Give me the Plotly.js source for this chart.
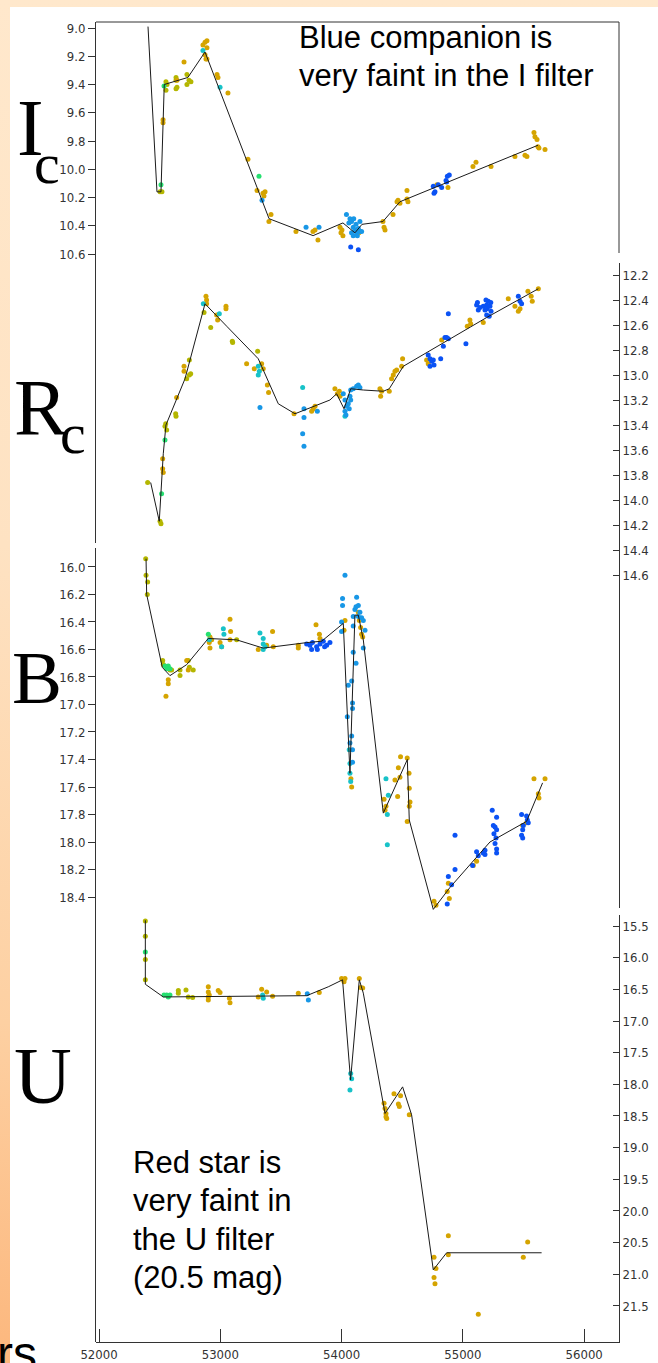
<!DOCTYPE html>
<html><head><meta charset="utf-8">
<script src="https://cdn.plot.ly/plotly-3.0.1.min.js"></script>
<style>
html,body{margin:0;padding:0;}
body{width:658px;height:1363px;overflow:hidden;background:linear-gradient(to bottom,#ffe8cc 0%,#fee2c2 40%,#fdd0a2 75%,#fcb77d 100%);}
#chart{width:658px;height:1363px;}
</style></head><body><div id="chart"></div>
<script>
// ---------- X axis (Julian Date) ----------
const xTicks = [52000, 53000, 54000, 55000, 56000];

// ---------- I_c panel ----------
const I_ticks = [9.0, 9.2, 9.4, 9.6, 9.8, 10.0, 10.2, 10.4, 10.6];
const I_line_jd  = [52404, 52478, 52511, 52538, 52733, 52874, 53402, 53765, 54011, 54110, 54168, 54341, 54481, 55619];
const I_line_mag = [8.99, 10.16, 10.16, 9.40, 9.35, 9.17, 10.35, 10.47, 10.38, 10.45, 10.39, 10.37, 10.23, 9.83];
const I_olive_jd  = [52503, 52519, 52552, 52561, 52552, 52635, 52635, 52635, 52643, 52725, 52725, 52742, 52758];
const I_olive_mag = [10.16, 10.16, 9.38, 9.40, 9.44, 9.35, 9.37, 9.43, 9.42, 9.33, 9.40, 9.37, 9.38];
const I_green_jd  = [52511, 52536, 53319];
const I_green_mag = [10.11, 9.41, 10.05];
const I_gold_jd  = [52528, 52528, 52643, 52701, 52857, 52874, 52890, 52890, 52874, 52890, 52882, 52973, 52981, 53063, 53228, 53303, 53360, 53352, 53369, 53418, 53401, 53624, 53764, 53781, 53805, 53987, 54003, 54011, 53995, 54127, 54143, 54341, 54350, 54358, 54424, 54457, 54465, 54481, 54539, 54547, 54539, 54786, 54877, 55083, 55108, 55232, 55429, 55512, 55528, 55586, 55594, 55611, 55619, 55677, 55627];
const I_gold_mag = [9.67, 9.65, 9.37, 9.24, 9.12, 9.10, 9.09, 9.14, 9.19, 9.22, 9.22, 9.33, 9.35, 9.46, 9.93, 10.15, 10.19, 10.17, 10.16, 10.32, 10.37, 10.44, 10.44, 10.43, 10.50, 10.41, 10.43, 10.47, 10.45, 10.43, 10.45, 10.37, 10.41, 10.43, 10.32, 10.23, 10.22, 10.24, 10.21, 10.23, 10.15, 10.11, 10.13, 9.98, 9.95, 9.98, 9.91, 9.90, 9.91, 9.74, 9.77, 9.79, 9.84, 9.86, 9.85];
const I_teal_jd  = [52857, 52998];
const I_teal_mag = [9.16, 9.42];
const I_sky_jd  = [53344, 53707, 53814, 54040, 54069, 54082, 54096, 54110, 54124, 54138, 54151, 54165, 54082, 54096, 54119, 54060, 54100, 54130, 54150];
const I_sky_mag = [10.22, 10.41, 10.41, 10.32, 10.35, 10.37, 10.41, 10.43, 10.45, 10.42, 10.37, 10.44, 10.45, 10.47, 10.39, 10.38, 10.35, 10.47, 10.44];
const I_blue_jd  = [54075, 54138, 54756, 54770, 54762, 54797, 54825, 54861, 54872, 54888, 54866];
const I_blue_mag = [10.55, 10.57, 10.12, 10.16, 10.17, 10.11, 10.13, 10.08, 10.05, 10.04, 10.09];

// ---------- R_c panel ----------
const R_ticks = [12.2, 12.4, 12.6, 12.8, 13.0, 13.2, 13.4, 13.6, 13.8, 14.0, 14.2, 14.4, 14.6];
const R_line_jd  = [52426, 52497, 52530, 52552, 52709, 52874, 53053, 53313, 53478, 53616, 53904, 53959, 54020, 54075, 54179, 54344, 54393, 54509, 55196, 55622];
const R_line_mag = [13.86, 14.17, 13.63, 13.40, 13.03, 12.43, 12.61, 12.87, 13.23, 13.31, 13.20, 13.15, 13.27, 13.11, 13.12, 13.13, 13.11, 12.93, 12.54, 12.31];
const R_olive_jd  = [52401, 52503, 52511, 52550, 52558, 52544, 52632, 52635, 52723, 52745, 52745, 52756, 52866, 52921, 53099, 53102, 53308];
const R_olive_mag = [13.86, 14.17, 14.19, 13.39, 13.44, 13.41, 13.31, 13.33, 13.03, 13.00, 12.88, 12.99, 12.50, 12.62, 12.73, 12.74, 12.81];
const R_green_jd  = [52516, 52544];
const R_green_mag = [13.95, 13.52];
const R_gold_jd  = [52525, 52525, 52530, 52640, 52701, 52701, 52882, 52887, 52887, 52970, 52978, 53047, 53047, 53217, 53280, 53341, 53354, 53388, 53398, 53608, 53753, 53767, 53781, 53945, 53965, 53981, 53987, 54316, 54330, 54322, 54393, 54412, 54426, 54440, 54454, 54503, 54495, 54701, 54714, 54825, 55036, 55058, 55064, 55168, 55374, 55429, 55457, 55471, 55536, 55563, 55572, 55622];
const R_gold_mag = [13.67, 13.75, 13.78, 13.18, 12.93, 12.97, 12.37, 12.40, 12.43, 12.52, 12.56, 12.45, 12.47, 12.91, 12.95, 12.91, 12.95, 13.08, 13.14, 13.31, 13.29, 13.27, 13.25, 13.11, 13.15, 13.13, 13.17, 13.11, 13.13, 13.17, 13.13, 13.03, 13.00, 12.97, 12.96, 12.87, 12.93, 12.88, 12.91, 12.72, 12.61, 12.56, 12.59, 12.58, 12.39, 12.45, 12.49, 12.47, 12.33, 12.37, 12.41, 12.31];
const R_teal_jd  = [52860, 52992, 53313, 53313, 53322, 53679, 54028];
const R_teal_mag = [12.43, 12.51, 12.93, 13.00, 12.97, 13.10, 13.33];
const R_sky_jd  = [53327, 53690, 53690, 53679, 53690, 53800, 54014, 54028, 54042, 54028, 54036, 54055, 54069, 54075, 54096, 54124, 54138, 54151, 54063, 54075];
const R_sky_mag = [13.26, 13.27, 13.34, 13.47, 13.57, 13.29, 13.15, 13.20, 13.25, 13.29, 13.32, 13.23, 13.17, 13.12, 13.11, 13.09, 13.08, 13.10, 13.27, 13.20];
const R_blue_jd  = [54714, 54729, 54743, 54756, 54762, 54729, 54817, 54839, 54852, 54866, 54880, 54880, 55025, 55113, 55127, 55168, 55182, 55196, 55209, 55223, 55232, 55196, 55217, 55457, 55471, 55484, 55120, 55190, 55200, 55230, 55140];
const R_blue_mag = [12.84, 12.87, 12.89, 12.88, 12.92, 12.93, 12.87, 12.77, 12.70, 12.70, 12.71, 12.51, 12.75, 12.44, 12.48, 12.45, 12.48, 12.44, 12.41, 12.45, 12.49, 12.52, 12.53, 12.37, 12.41, 12.43, 12.42, 12.40, 12.47, 12.42, 12.46];

// ---------- B panel ----------
const B_ticks = [16.0, 16.2, 16.4, 16.6, 16.8, 17.0, 17.2, 17.4, 17.6, 17.8, 18.0, 18.2, 18.4];
const B_line_jd  = [52388, 52393, 52522, 52585, 52723, 52901, 53135, 53354, 53712, 53836, 53904, 54014, 54069, 54110, 54138, 54179, 54344, 54542, 54558, 54756, 54894, 55223, 55525, 55657];
const B_line_mag = [15.94, 16.20, 16.73, 16.79, 16.71, 16.52, 16.53, 16.59, 16.55, 16.54, 16.49, 16.41, 17.50, 16.35, 16.35, 16.53, 17.79, 17.40, 17.84, 18.49, 18.33, 18.00, 17.85, 17.57];
const B_olive_jd  = [52385, 52388, 52401, 52398, 52525, 52530, 52585, 52599, 52668, 52668, 52736, 52745, 52777, 53135];
const B_olive_mag = [15.94, 16.06, 16.11, 16.20, 16.68, 16.71, 16.75, 16.75, 16.75, 16.79, 16.68, 16.73, 16.75, 16.53];
const B_green_jd  = [52544, 52558, 52571, 52585, 52901];
const B_green_mag = [16.72, 16.74, 16.72, 16.74, 16.49];
const B_gold_jd  = [52571, 52571, 52552, 52723, 52736, 52915, 52909, 52915, 52929, 52998, 53011, 53080, 53085, 53080, 53313, 53382, 53431, 53437, 53643, 53643, 53789, 53817, 53822, 54028, 54020, 54077, 54083, 54138, 54146, 54157, 54165, 54174, 54350, 54358, 54366, 54440, 54468, 54481, 54462, 54486, 54541, 54556, 54558, 54564, 54558, 54541, 54762, 54778, 54880, 54871, 54888, 55086, 55113, 55493, 55525, 55586, 55677, 55622, 55627];
const B_gold_mag = [16.82, 16.85, 16.94, 16.68, 16.75, 16.51, 16.55, 16.59, 16.53, 16.55, 16.58, 16.38, 16.47, 16.53, 16.60, 16.57, 16.47, 16.58, 16.57, 16.59, 16.42, 16.49, 16.52, 16.39, 16.46, 17.54, 17.60, 16.33, 16.39, 16.44, 16.49, 16.51, 17.69, 17.77, 17.74, 17.55, 17.46, 17.53, 17.67, 17.38, 17.39, 17.50, 17.61, 17.71, 17.74, 17.85, 18.43, 18.46, 18.30, 18.36, 18.41, 18.17, 18.14, 17.88, 17.86, 17.54, 17.54, 17.65, 17.68];
const B_teal_jd  = [52909, 53025, 53030, 53011, 53327, 53354, 53354, 53369, 53354, 54063, 54069, 54069, 54075, 54366, 54385, 54377, 54377];
const B_teal_mag = [16.53, 16.45, 16.49, 16.58, 16.48, 16.52, 16.56, 16.58, 16.60, 17.33, 17.43, 17.50, 17.56, 17.54, 17.66, 17.80, 18.02];
const B_sky_jd  = [54028, 54008, 54008, 54000, 54000, 54055, 54047, 54083, 54090, 54090, 54083, 54069, 54090, 54090, 54096, 54110, 54124, 54138, 54151, 54096, 54165, 54179, 54193, 54119, 54138, 54179, 54119, 54096];
const B_sky_mag = [16.06, 16.23, 16.28, 16.40, 16.47, 16.86, 17.09, 16.83, 16.99, 17.03, 17.23, 17.28, 17.33, 17.42, 16.36, 16.31, 16.22, 16.28, 16.33, 16.43, 16.37, 16.39, 16.46, 16.29, 16.36, 16.59, 16.70, 16.62];
const B_blue_jd  = [53712, 53794, 53822, 53849, 53877, 53904, 53753, 53739, 53760, 53800, 53860, 54871, 54880, 54907, 54935, 54935, 55127, 55080, 55113, 55168, 55182, 55182, 55242, 55278, 55251, 55265, 55278, 55256, 55273, 55265, 55278, 55278, 55484, 55498, 55493, 55484, 55493, 55525, 55539, 55531];
const B_blue_mag = [16.56, 16.58, 16.56, 16.54, 16.57, 16.55, 16.60, 16.57, 16.55, 16.60, 16.58, 18.45, 18.25, 18.31, 18.20, 17.95, 18.10, 18.17, 18.07, 18.08, 18.09, 18.06, 17.77, 17.82, 17.88, 17.89, 17.91, 17.94, 17.97, 18.01, 18.05, 18.08, 17.80, 17.88, 17.91, 17.95, 17.97, 17.81, 17.86, 17.84];

// ---------- U panel ----------
const U_ticks = [15.5, 16.0, 16.5, 17.0, 17.5, 18.0, 18.5, 19.0, 19.5, 20.0, 20.5, 21.0, 21.5];
const U_line_jd  = [52382, 52382, 52530, 53121, 53712, 53890, 54008, 54074, 54146, 54179, 54358, 54503, 54577, 54756, 54866, 55649];
const U_line_mag = [15.41, 16.42, 16.62, 16.61, 16.60, 16.46, 16.35, 17.93, 16.35, 16.56, 18.46, 18.04, 18.48, 20.93, 20.66, 20.66];
const U_olive_jd  = [52382, 52382, 52382, 52382, 52654, 52654, 52717, 52736, 52772];
const U_olive_mag = [15.42, 15.66, 16.03, 16.35, 16.52, 16.56, 16.51, 16.62, 16.63];
const U_green_jd  = [52382, 52536, 52558, 52571, 52585];
const U_green_mag = [15.91, 16.59, 16.59, 16.62, 16.59];
const U_gold_jd  = [52901, 52901, 52901, 52901, 52909, 52983, 52998, 53075, 53080, 53341, 53313, 53382, 53431, 53643, 53816, 54000, 54014, 54020, 54028, 54146, 54157, 54174, 54350, 54358, 54366, 54372, 54366, 54432, 54468, 54486, 54476, 54558, 54762, 54762, 54770, 54778, 54880, 54880, 55127, 55498, 55534];
const U_gold_mag = [16.46, 16.54, 16.62, 16.67, 16.59, 16.52, 16.55, 16.64, 16.71, 16.50, 16.62, 16.54, 16.61, 16.56, 16.55, 16.33, 16.35, 16.38, 16.33, 16.33, 16.47, 16.48, 18.30, 18.38, 18.46, 18.54, 18.51, 18.15, 18.31, 18.18, 18.35, 18.48, 20.73, 21.05, 21.15, 20.91, 20.39, 20.69, 21.63, 20.73, 20.49];
const U_teal_jd  = [53349, 53354, 54075, 54083, 54069];
const U_teal_mag = [16.59, 16.64, 17.83, 17.91, 18.09];
const U_sky_jd  = [53717, 53726];
const U_sky_mag = [16.57, 16.67];

// ---------- text ----------
const noteTop = ["Blue companion is", "very faint in the I filter"];
const noteBottom = ["Red star is", "very faint in", "the U filter", "(20.5 mag)"];

// ---------- styling ----------
const W = 658, H = 1363;
const fx = p => p / W, fy = p => 1 - p / H;
const COL = {gold:'#d5a400', olive:'#b4b600', green:'#25e070', teal:'#18c2c8', sky:'#1897e6', blue:'#0b52f4'};
const tickFont = {family:'"DejaVu Sans Condensed", "Liberation Sans Narrow", "Liberation Sans", sans-serif', size:13, color:'#333'};
const axisCol = '#333';

const traces = [];
function addPanel(ax, groups, ljd, lmag) {
  groups.forEach(g => traces.push({type:'scatter', mode:'markers', x:g[1], y:g[2], yaxis:ax,
    marker:{color:COL[g[0]], size:5}, hoverinfo:'skip', cliponaxis:true}));
  traces.push({type:'scatter', mode:'lines', x:ljd, y:lmag, yaxis:ax,
    line:{color:'#1a1a1a', width:1}, hoverinfo:'skip'});
}
addPanel('y', [['olive',I_olive_jd,I_olive_mag],['gold',I_gold_jd,I_gold_mag],['green',I_green_jd,I_green_mag],['teal',I_teal_jd,I_teal_mag],['sky',I_sky_jd,I_sky_mag],['blue',I_blue_jd,I_blue_mag]], I_line_jd, I_line_mag);
addPanel('y2', [['olive',R_olive_jd,R_olive_mag],['gold',R_gold_jd,R_gold_mag],['green',R_green_jd,R_green_mag],['teal',R_teal_jd,R_teal_mag],['sky',R_sky_jd,R_sky_mag],['blue',R_blue_jd,R_blue_mag]], R_line_jd, R_line_mag);
addPanel('y3', [['olive',B_olive_jd,B_olive_mag],['gold',B_gold_jd,B_gold_mag],['green',B_green_jd,B_green_mag],['teal',B_teal_jd,B_teal_mag],['sky',B_sky_jd,B_sky_mag],['blue',B_blue_jd,B_blue_mag]], B_line_jd, B_line_mag);
addPanel('y4', [['olive',U_olive_jd,U_olive_mag],['gold',U_gold_jd,U_gold_mag],['green',U_green_jd,U_green_mag],['teal',U_teal_jd,U_teal_mag],['sky',U_sky_jd,U_sky_mag]], U_line_jd, U_line_mag);

function yax(domTop, domBot, vTop, vBot, side, ticks) {
  return {domain:[fy(domBot), fy(domTop)], range:[vBot, vTop], side:side, anchor:'x',
    showline:true, linecolor:axisCol, linewidth:1, mirror:false,
    ticks: side === 'left' ? 'outside' : 'inside', ticklen: side === 'left' ? 7 : 6, tickwidth:1, tickcolor:axisCol,
    tickvals:ticks, ticktext:ticks.map(v => v.toFixed(1)), tickfont:tickFont,
    showgrid:false, zeroline:false, fixedrange:true};
}

const annotations = [];
const serif = {family:'"Liberation Serif", "Times New Roman", serif', size:80, color:'#000'};
const serifB = {family:'"Liberation Serif", "Times New Roman", serif', size:75, color:'#000'};
const serifSub = {family:'"Liberation Serif", "Times New Roman", serif', size:58, color:'#000'};
// [text, left px, top px, font]
[['I', 17, 84, serif], ['c', 34, 131, serifSub],
 ['R', 14, 364, serif], ['c', 60, 401, serifSub],
 ['B', 12, 636, serifB], ['U', 14, 1032, serif]].forEach(a =>
  annotations.push({text:a[0], xref:'paper', yref:'paper', x:fx(a[1]), y:fy(a[2]), xanchor:'left', yanchor:'top',
    showarrow:false, font:a[3], borderpad:0, borderwidth:0}));
const sans = {family:'"Liberation Sans", Arial, sans-serif', size:31, color:'#000'};
noteTop.forEach((t, i) => annotations.push({text:t, xref:'paper', yref:'paper', x:fx(299), y:fy(20 + i*38.4),
  xanchor:'left', yanchor:'top', showarrow:false, font:sans, borderpad:0, borderwidth:0}));
noteBottom.forEach((t, i) => annotations.push({text:t, xref:'paper', yref:'paper', x:fx(133), y:fy(1145 + i*38.4),
  xanchor:'left', yanchor:'top', showarrow:false, font:sans, borderpad:0, borderwidth:0}));
annotations.push({text:'rs', xref:'paper', yref:'paper', x:fx(-3), y:fy(1327), xanchor:'left', yanchor:'top',
  showarrow:false, font:{family:'"Liberation Sans", Arial, sans-serif', size:48, color:'#000'}, borderpad:0, borderwidth:0});

const layout = {
  width:W, height:H, margin:{l:0, r:0, t:0, b:0},
  paper_bgcolor:'rgba(0,0,0,0)', plot_bgcolor:'rgba(0,0,0,0)', showlegend:false,
  xaxis:{domain:[fx(96), fx(619)], range:[51975.3, 56287], anchor:'y4',
    showline:true, linecolor:axisCol, linewidth:1, ticks:'inside', ticklen:13, tickwidth:1, tickcolor:axisCol,
    tickvals:xTicks, ticktext:xTicks.map(String), tickfont:tickFont, showgrid:false, zeroline:false, fixedrange:true},
  yaxis:  yax(22, 543, 8.9575, 12.646, 'left', I_ticks),
  yaxis2: yax(263, 908, 12.104, 17.264, 'right', R_ticks),
  yaxis3: yax(548, 1342, 15.862, 21.636, 'left', B_ticks),
  yaxis4: yax(915, 1342, 15.326, 22.069, 'right', U_ticks),
  shapes:[
    {type:'rect', xref:'paper', yref:'paper', x0:fx(10), x1:1.01, y0:-0.01, y1:fy(7), fillcolor:'#ffffff', line:{width:0}, layer:'below'},
    {type:'line', xref:'paper', yref:'paper', x0:fx(96), x1:fx(619), y0:fy(22), y1:fy(22), line:{color:axisCol, width:1}},
    {type:'line', xref:'paper', yref:'paper', x0:fx(619), x1:fx(619), y0:fy(22), y1:fy(253), line:{color:axisCol, width:1}}
  ],
  annotations:annotations
};

Plotly.newPlot('chart', traces, layout, {displayModeBar:false, staticPlot:true});
</script></body></html>
